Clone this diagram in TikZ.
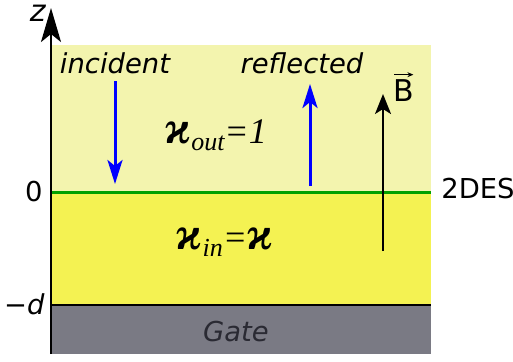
\documentclass[tikz,border=0pt]{standalone}
\usepackage{amsmath}
\usepackage{fontspec}
\setmainfont{DejaVu Sans}
\newfontfamily\kappafont{Liberation Serif}
\usetikzlibrary{arrows.meta, positioning}
\definecolor{outcol}{HTML}{F3F4AE}
\definecolor{incol}{HTML}{F4F252}
\definecolor{gatecol}{HTML}{7A7A84}
\definecolor{gatetext}{HTML}{2A2A33}
\definecolor{desgreen}{HTML}{00A000}
\newcommand{\kap}{{\fontsize{23}{23}\selectfont\bfseries\itshape ϰ}}
\newcommand{\subtxt}[1]{\raisebox{-0.45ex}{\fontsize{13}{13}\selectfont\itshape #1}}

\begin{document}
\begin{tikzpicture}[
    x=0.5pt, y=-0.5pt,
    lbl/.style={font=\fontsize{13.7}{16}\selectfont\itshape, inner sep=0pt},
    tick/.style={font=\fontsize{13.7}{16}\selectfont, inner sep=0pt, anchor=east},
    eps/.style={font=\kappafont\fontsize{18}{20}\selectfont\itshape, inner sep=0pt},
    wave/.style={blue, line width=1.5pt, -{Stealth[length=12pt, width=7.5pt, inset=3pt]}},
    field/.style={black, line width=1pt, -{Stealth[length=10pt, width=8pt, inset=2.5pt]}},
    axis/.style={black, line width=1pt, -{Stealth[length=17pt, width=10pt, inset=4pt]}}
]
    \useasboundingbox (0,0) rectangle (513,361);

    % layers
    \fill[outcol] (51,45) rectangle (431,192);
    \fill[incol] (51,192) rectangle (431,305);
    \fill[gatecol] (51,305) rectangle (431,354);
    \draw[line width=1pt] (51,305) -- (431,305);
    \draw[desgreen, line width=1.5pt] (51,192) -- (431,192);

    % z axis
    \coordinate (zlow) at (51,354);
    \coordinate (ztop) at (51,8);
    \draw[axis] (zlow) -- (ztop);
    \node[lbl, anchor=east, font=\fontsize{15}{16}\selectfont\itshape] (z) at (46,13) {z};
    \node[tick] (zero) at (43,192) {0};
    \node[tick] (mind) at (45,304) {−\textit{d}};
    \node[font=\fontsize{13.7}{16}\selectfont, inner sep=0pt, anchor=west] (des) at (441,189) {2DES};

    % waves
    \node[lbl] (inc) at (115,63) {incident};
    \node[lbl] (refl) at (302,63) {reflected};
    \coordinate (incA) at (115,81);
    \coordinate (incB) at (115,184);
    \coordinate (refA) at (310,186);
    \coordinate (refB) at (310,84);
    \draw[wave] (incA) -- (incB);
    \draw[wave] (refA) -- (refB);

    % magnetic field
    \coordinate (bA) at (383,251);
    \coordinate (bB) at (383,94);
    \draw[field] (bA) -- (bB);
    \node[font=\fontsize{15}{16}\selectfont, inner sep=0pt, anchor=west] (B) at (393,91) {B};
    \draw[line width=0.5pt, -{Stealth[length=3pt, width=2.5pt]}]
        ([xshift=0.5pt, yshift=2.5pt]B.north west) -- ([xshift=-0.5pt, yshift=2.5pt]B.north east);

    % permittivities
    \node[eps] (epsout) at (216,135) {\kap\subtxt{out}=1};
    \node[eps] (epsin) at (225,242) {\kap\subtxt{in}=\kap};

    \node[lbl, text=gatetext] (gate) at (236,332) {Gate};
\end{tikzpicture}
\end{document}
